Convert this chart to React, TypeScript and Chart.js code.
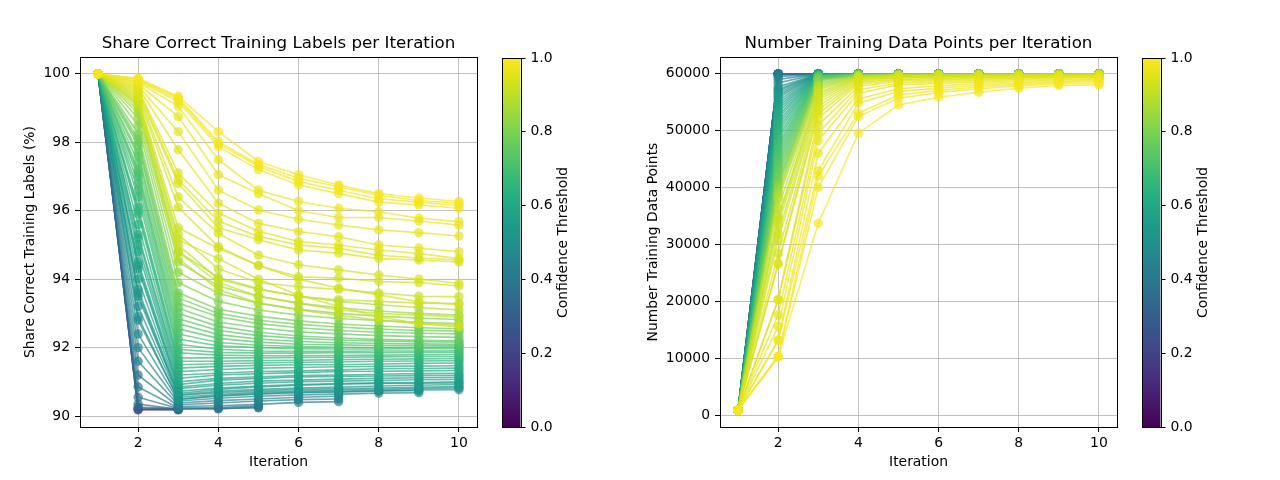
import React, { useEffect, useRef } from "react";
import { Chart, registerables } from "chart.js";

Chart.register(...registerables);

// ---------------- data ----------------
const iterations = [1, 2, 3, 4, 5, 6, 7, 8, 9, 10];

const thresholds = [
  0.2, 0.24, 0.28, 0.32, 0.35, 0.37, 0.39, 0.41, 0.43, 0.45, 0.47, 0.49,
  0.5, 0.51, 0.52, 0.53, 0.54, 0.55, 0.56, 0.57, 0.58, 0.59, 0.6, 0.61,
  0.62, 0.63, 0.64, 0.65, 0.66, 0.67, 0.68, 0.69, 0.7, 0.71, 0.72, 0.73,
  0.74, 0.75, 0.76, 0.77, 0.78, 0.79, 0.81, 0.83, 0.85, 0.87, 0.89, 0.9,
  0.91, 0.915, 0.92, 0.925, 0.93, 0.935, 0.94, 0.945, 0.95, 0.955, 0.96,
  0.965, 0.97, 0.975, 0.98, 0.985, 0.99,
];

// Share of correct training labels (%) per iteration, one row per threshold
const shareCorrect: number[][] = [
  [100, 90.18, 90.19],
  [100, 90.2, 90.18],
  [100, 90.22, 90.2],
  [100, 90.26, 90.21],
  [100, 90.35, 90.2, 90.22, 90.24],
  [100, 90.55, 90.22, 90.21, 90.27],
  [100, 90.85, 90.24, 90.25, 90.3],
  [100, 91.2, 90.28, 90.3, 90.34, 90.4, 90.42],
  [100, 91.6, 90.33, 90.38, 90.44, 90.48, 90.5],
  [100, 92.0, 90.38, 90.45, 90.5, 90.55, 90.58],
  [100, 92.4, 90.44, 90.52, 90.58, 90.62, 90.64, 90.67, 90.68],
  [100, 92.8, 90.5, 90.58, 90.64, 90.68, 90.7, 90.73, 90.74],
  [100, 92.9, 90.48, 90.6, 90.66, 90.7, 90.72, 90.74, 90.76, 90.77],
  [100, 93.2, 90.55, 90.63, 90.7, 90.73, 90.76, 90.78, 90.8, 90.82],
  [100, 93.5, 90.6, 90.68, 90.74, 90.78, 90.8, 90.82, 90.84, 90.86],
  [100, 93.6, 90.62, 90.72, 90.78, 90.82, 90.85, 90.88, 90.9, 90.92],
  [100, 93.7, 90.66, 90.78, 90.85, 90.9, 90.93, 90.95, 90.96, 90.97],
  [100, 94.0, 90.72, 90.82, 90.88, 90.92, 90.95, 90.97, 90.98, 91.0],
  [100, 94.3, 90.8, 90.9, 90.96, 91.0, 91.02, 91.04, 91.06, 91.07],
  [100, 94.4, 90.85, 90.95, 91.02, 91.05, 91.08, 91.1, 91.12, 91.13],
  [100, 94.5, 90.92, 91.05, 91.1, 91.14, 91.16, 91.17, 91.18, 91.19],
  [100, 94.8, 91.0, 91.1, 91.15, 91.18, 91.2, 91.22, 91.24, 91.25],
  [100, 95.0, 91.1, 91.2, 91.24, 91.27, 91.3, 91.31, 91.32, 91.33],
  [100, 95.2, 91.2, 91.25, 91.3, 91.32, 91.35, 91.38, 91.39, 91.4],
  [100, 95.3, 91.3, 91.36, 91.4, 91.42, 91.44, 91.45, 91.46, 91.47],
  [100, 95.6, 91.4, 91.45, 91.48, 91.5, 91.5, 91.52, 91.54, 91.55],
  [100, 95.9, 91.5, 91.53, 91.55, 91.57, 91.58, 91.6, 91.61, 91.62],
  [100, 96.0, 91.6, 91.6, 91.62, 91.63, 91.65, 91.66, 91.67, 91.68],
  [100, 96.1, 91.7, 91.7, 91.7, 91.71, 91.72, 91.73, 91.74, 91.74],
  [100, 96.4, 91.85, 91.78, 91.76, 91.76, 91.77, 91.78, 91.79, 91.8],
  [100, 96.6, 91.95, 91.86, 91.84, 91.84, 91.85, 91.85, 91.86, 91.86],
  [100, 96.8, 92.1, 91.95, 91.9, 91.89, 91.89, 91.9, 91.9, 91.91],
  [100, 97.0, 92.25, 92.05, 92.0, 91.97, 91.96, 91.96, 91.97, 91.97],
  [100, 97.1, 92.4, 92.15, 92.07, 92.03, 92.01, 92.0, 92.01, 92.02],
  [100, 97.2, 92.55, 92.27, 92.16, 92.1, 92.08, 92.06, 92.06, 92.06],
  [100, 97.4, 92.7, 92.38, 92.25, 92.18, 92.14, 92.12, 92.11, 92.1],
  [100, 97.6, 92.85, 92.5, 92.35, 92.27, 92.22, 92.19, 92.17, 92.16],
  [100, 97.7, 93.0, 92.62, 92.45, 92.34, 92.28, 92.24, 92.21, 92.2],
  [100, 97.9, 93.15, 92.75, 92.58, 92.46, 92.4, 92.35, 92.32, 92.3],
  [100, 98.0, 93.3, 92.9, 92.7, 92.58, 92.5, 92.45, 92.42, 92.4],
  [100, 98.1, 93.45, 93.0, 92.8, 92.68, 92.6, 92.54, 92.5, 92.48],
  [100, 98.25, 93.6, 93.12, 92.92, 92.78, 92.69, 92.63, 92.58, 92.55],
  [100, 98.5, 93.9, 93.35, 93.1, 92.95, 92.85, 92.79, 92.74, 92.7],
  [100, 98.7, 94.2, 93.58, 93.3, 93.12, 93.0, 92.92, 92.86, 92.82],
  [100, 98.85, 94.5, 93.8, 93.5, 93.3, 93.16, 93.07, 93.0, 92.95],
  [100, 98.95, 94.8, 94.05, 93.72, 93.5, 93.35, 93.25, 93.17, 93.1],
  [100, 99.05, 94.6, 93.7, 93.3, 93.1, 92.95, 92.8, 92.7, 92.65],
  [100, 99.1, 94.8, 93.9, 93.5, 93.3, 93.1, 93.0, 92.95, 92.9],
  [100, 99.15, 95.0, 94.0, 93.7, 93.5, 93.4, 93.35, 93.3, 93.29],
  [100, 99.2, 95.3, 94.3, 93.9, 93.78, 93.7, 93.6, 93.5, 93.49],
  [100, 99.25, 95.15, 94.6, 94.0, 93.54, 93.2, 92.9, 92.7, 92.6],
  [100, 99.3, 95.5, 94.9, 94.4, 94.0, 93.74, 93.54, 93.34, 93.25],
  [100, 99.35, 96.1, 94.95, 94.4, 94.07, 94.03, 93.93, 93.9, 93.8],
  [100, 99.4, 96.4, 95.34, 94.7, 94.42, 94.27, 94.12, 94.0, 93.88],
  [100, 99.45, 96.8, 95.5, 95.15, 94.85, 94.76, 94.6, 94.56, 94.5],
  [100, 99.5, 96.9, 95.7, 95.25, 95.0, 94.9, 94.7, 94.62, 94.56],
  [100, 99.55, 97.1, 95.93, 95.4, 95.1, 95.0, 94.85, 94.75, 94.6],
  [100, 99.6, 97.78, 96.22, 95.63, 95.39, 95.24, 95.0, 94.91, 94.8],
  [100, 99.65, 98.31, 96.6, 96.02, 95.75, 95.58, 95.44, 95.36, 95.26],
  [100, 99.7, 98.75, 97.05, 96.5, 96.0, 95.8, 95.8, 95.7, 95.58],
  [100, 99.75, 99.05, 97.49, 96.6, 96.27, 96.07, 95.97, 95.78, 95.68],
  [100, 99.78, 99.19, 97.87, 97.2, 96.75, 96.5, 96.25, 96.17, 96.07],
  [100, 99.82, 99.25, 97.95, 97.3, 96.85, 96.6, 96.35, 96.25, 96.15],
  [100, 99.85, 99.3, 98.02, 97.35, 96.95, 96.7, 96.45, 96.3, 96.22],
  [100, 99.87, 99.34, 98.31, 97.44, 97.05, 96.75, 96.5, 96.37, 96.27],
];

// Number of training data points per iteration, one row per threshold
const trainingPoints: number[][] = [
  [1000, 60000, 60000],
  [1000, 60000, 60000],
  [1000, 60000, 60000],
  [1000, 60000, 60000],
  [1000, 60000, 60000, 60000, 60000],
  [1000, 60000, 60000, 60000, 60000],
  [1000, 60000, 60000, 60000, 60000],
  [1000, 59800, 60000, 60000, 60000, 60000, 60000],
  [1000, 59500, 59990, 60000, 60000, 60000, 60000],
  [1000, 59000, 59990, 60000, 60000, 60000, 60000],
  [1000, 58400, 59990, 60000, 60000, 60000, 60000, 60000, 60000],
  [1000, 57700, 59985, 59995, 60000, 60000, 60000, 60000, 60000],
  [1000, 57300, 59982, 59992, 60000, 60000, 60000, 60000, 60000, 60000],
  [1000, 57000, 59980, 59990, 60000, 60000, 60000, 60000, 60000, 60000],
  [1000, 56600, 59975, 59988, 59998, 60000, 60000, 60000, 60000, 60000],
  [1000, 56200, 59970, 59985, 59995, 60000, 60000, 60000, 60000, 60000],
  [1000, 55800, 59960, 59982, 59992, 59998, 59998, 60000, 60000, 60000],
  [1000, 55300, 59950, 59980, 59990, 59995, 59995, 60000, 60000, 60000],
  [1000, 54800, 59940, 59978, 59988, 59992, 59995, 59998, 60000, 60000],
  [1000, 54300, 59930, 59975, 59985, 59990, 59995, 59995, 60000, 60000],
  [1000, 53800, 59915, 59972, 59982, 59990, 59992, 59995, 59998, 59998],
  [1000, 53300, 59900, 59970, 59980, 59990, 59990, 59995, 59995, 59995],
  [1000, 52700, 59885, 59965, 59978, 59988, 59990, 59992, 59995, 59995],
  [1000, 52200, 59870, 59960, 59975, 59985, 59990, 59990, 59995, 59995],
  [1000, 51600, 59850, 59955, 59972, 59982, 59988, 59990, 59992, 59992],
  [1000, 51000, 59830, 59950, 59970, 59980, 59985, 59990, 59990, 59990],
  [1000, 50400, 59800, 59945, 59968, 59978, 59982, 59988, 59990, 59990],
  [1000, 49800, 59780, 59940, 59965, 59975, 59980, 59985, 59990, 59990],
  [1000, 49100, 59750, 59935, 59962, 59972, 59978, 59982, 59988, 59988],
  [1000, 48500, 59720, 59930, 59960, 59970, 59975, 59980, 59985, 59985],
  [1000, 47800, 59690, 59925, 59955, 59965, 59972, 59978, 59982, 59985],
  [1000, 47200, 59650, 59920, 59950, 59960, 59970, 59975, 59980, 59985],
  [1000, 46600, 59600, 59910, 59945, 59958, 59968, 59972, 59978, 59982],
  [1000, 46000, 59550, 59900, 59940, 59955, 59965, 59970, 59975, 59980],
  [1000, 45400, 59500, 59890, 59935, 59952, 59962, 59968, 59972, 59978],
  [1000, 44800, 59450, 59880, 59930, 59950, 59960, 59965, 59970, 59975],
  [1000, 44200, 59380, 59870, 59925, 59945, 59955, 59962, 59968, 59972],
  [1000, 43600, 59300, 59860, 59920, 59940, 59950, 59960, 59965, 59970],
  [1000, 42900, 59230, 59845, 59915, 59935, 59945, 59955, 59962, 59968],
  [1000, 42300, 59150, 59830, 59910, 59930, 59940, 59950, 59960, 59965],
  [1000, 41600, 59050, 59815, 59905, 59925, 59935, 59945, 59955, 59962],
  [1000, 41000, 58950, 59800, 59900, 59920, 59930, 59940, 59950, 59960],
  [1000, 40500, 58700, 59760, 59880, 59910, 59920, 59930, 59940, 59950],
  [1000, 40000, 58400, 59720, 59860, 59890, 59910, 59920, 59930, 59940],
  [1000, 39300, 58100, 59680, 59840, 59870, 59890, 59910, 59920, 59930],
  [1000, 38700, 57800, 59620, 59810, 59850, 59870, 59890, 59910, 59920],
  [1000, 38000, 57500, 59560, 59780, 59820, 59850, 59880, 59900, 59910],
  [1000, 36500, 57190, 59500, 59740, 59790, 59830, 59860, 59890, 59900],
  [1000, 35000, 56700, 59420, 59700, 59750, 59800, 59840, 59870, 59890],
  [1000, 34500, 56300, 59350, 59640, 59700, 59760, 59810, 59850, 59870],
  [1000, 33500, 55900, 59250, 59580, 59660, 59720, 59780, 59830, 59850],
  [1000, 32000, 55430, 59150, 59520, 59600, 59680, 59740, 59800, 59820],
  [1000, 30870, 54900, 59000, 59450, 59550, 59620, 59700, 59760, 59790],
  [1000, 28500, 54300, 58850, 59350, 59450, 59550, 59640, 59710, 59750],
  [1000, 26780, 53680, 58650, 59240, 59350, 59450, 59560, 59650, 59700],
  [1000, 26600, 53000, 58500, 59050, 59200, 59350, 59480, 59580, 59630],
  [1000, 20470, 52220, 58200, 58900, 59050, 59200, 59380, 59500, 59560],
  [1000, 20300, 51000, 57770, 58700, 58850, 59050, 59250, 59400, 59480],
  [1000, 17720, 49590, 57200, 58400, 58600, 58850, 59100, 59280, 59380],
  [1000, 15670, 48300, 56600, 58060, 58300, 58600, 58900, 59100, 59230],
  [1000, 13330, 46080, 55600, 57400, 57900, 58300, 58650, 58900, 59050],
  [1000, 13200, 43030, 54850, 56890, 57500, 58000, 58400, 58700, 58850],
  [1000, 10500, 42100, 53100, 56300, 57100, 57700, 58150, 58500, 58650],
  [1000, 10400, 40100, 52510, 55720, 56700, 57400, 57900, 58250, 58400],
  [1000, 10290, 33800, 49590, 54550, 55900, 56780, 57480, 57950, 58060],
];

const xTicks = [2, 4, 6, 8, 10];
const shareTicks = [90, 92, 94, 96, 98, 100];
const pointsTicks = [0, 10000, 20000, 30000, 40000, 50000, 60000];
const cbarTicks = [0, 0.2, 0.4, 0.6, 0.8, 1.0];

// ---------------- styling helpers ----------------
const FONT = "'DejaVu Sans', 'Liberation Sans', sans-serif";
const VIRIDIS = [
  "#440154", "#471365", "#482475", "#463480", "#414487", "#3b528b", "#355f8d",
  "#2f6c8e", "#2a788e", "#25848e", "#21918c", "#1e9c89", "#22a884", "#2fb47c",
  "#44bf70", "#5ec962", "#7ad151", "#9bd93c", "#bddf26", "#dfe318", "#fde725",
];
function hexRgb(h: string) {
  return [parseInt(h.slice(1, 3), 16), parseInt(h.slice(3, 5), 16), parseInt(h.slice(5, 7), 16)];
}
function viridis(t: number, a = 1) {
  const p = Math.max(0, Math.min(1, t)) * (VIRIDIS.length - 1);
  const i = Math.min(VIRIDIS.length - 2, Math.floor(p));
  const f = p - i;
  const c0 = hexRgb(VIRIDIS[i]);
  const c1 = hexRgb(VIRIDIS[i + 1]);
  const c = c0.map((v, k) => Math.round(v + (c1[k] - v) * f));
  return `rgba(${c[0]},${c[1]},${c[2]},${a})`;
}

const framePlugin = {
  id: "frame",
  afterDraw(chart: any) {
    const { ctx, chartArea: a } = chart;
    ctx.save();
    ctx.strokeStyle = "#000";
    ctx.lineWidth = 1;
    ctx.strokeRect(Math.round(a.left) + 0.5, Math.round(a.top) + 0.5, Math.round(a.right - a.left), Math.round(a.bottom - a.top));
    ctx.restore();
  },
};

const cbarPlugin = {
  id: "cbar",
  beforeDatasetsDraw(chart: any) {
    const { ctx, chartArea: a } = chart;
    const g = ctx.createLinearGradient(0, a.bottom, 0, a.top);
    VIRIDIS.forEach((c, i) => g.addColorStop(i / (VIRIDIS.length - 1), c));
    ctx.save();
    ctx.fillStyle = g;
    ctx.fillRect(a.left, a.top, a.right - a.left, a.bottom - a.top);
    ctx.restore();
  },
  afterDraw(chart: any) {
    const { ctx, chartArea: a } = chart;
    ctx.save();
    ctx.strokeStyle = "#000";
    ctx.lineWidth = 1;
    ctx.strokeRect(Math.round(a.left) + 0.5, Math.round(a.top) + 0.5, Math.round(a.right - a.left), Math.round(a.bottom - a.top));
    ctx.translate(73, (a.top + a.bottom) / 2);
    ctx.rotate(-Math.PI / 2);
    ctx.fillStyle = "#000";
    ctx.font = `13.9px ${FONT}`;
    ctx.textAlign = "center";
    ctx.textBaseline = "middle";
    ctx.fillText("Confidence Threshold", 0, 0);
    ctx.restore();
  },
};

const tickFont = { family: FONT, size: 13.9 };

function mainConfig(
  title: string,
  yTitle: string,
  rows: number[][],
  yMin: number,
  yMax: number,
  yTicks: number[],
  yTitlePad: number
): any {
  const datasets = thresholds
    .map((t, i) => ({
      data: rows[i].map((v, j) => ({ x: iterations[j], y: v })),
      borderColor: viridis(t, 0.7),
      backgroundColor: viridis(t, 0.7),
      pointBackgroundColor: viridis(t, 0.7),
      pointBorderWidth: 0,
      pointRadius: 4.7,
      borderWidth: 1.6,
      tension: 0,
    }))
    .reverse();
  return {
    type: "line",
    data: { datasets },
    options: {
      animation: false,
      responsive: false,
      events: [],
      layout: { padding: { top: 33.5, left: 0, right: 163, bottom: 0 } },
      plugins: {
        legend: { display: false },
        tooltip: { enabled: false },
        title: {
          display: true,
          fullSize: false,
          text: title,
          color: "#000",
          font: { family: FONT, size: 16.7, weight: "normal" },
          padding: { top: 0, bottom: 3.5 },
        },
      },
      scales: {
        x: {
          type: "linear",
          min: 0.55,
          max: 10.45,
          afterBuildTicks: (s: any) => {
            s.ticks = xTicks.map((v) => ({ value: v }));
          },
          afterFit: (s: any) => {
            s.height = 53;
          },
          grid: { color: "#b0b0b0", lineWidth: 0.8, tickColor: "#000", tickLength: 5, drawTicks: true, tickWidth: 1 },
          border: { display: false },
          ticks: { color: "#000", font: tickFont, padding: 3, maxRotation: 0, callback: (v: any) => String(v) },
          title: { display: true, text: "Iteration", color: "#000", font: tickFont, padding: { top: 0, bottom: 9.2 } },
        },
        y: {
          type: "linear",
          min: yMin,
          max: yMax,
          afterBuildTicks: (s: any) => {
            s.ticks = yTicks.map((v) => ({ value: v }));
          },
          afterFit: (s: any) => {
            s.width = 80;
          },
          grid: { color: "#b0b0b0", lineWidth: 0.8, tickColor: "#000", tickLength: 5, drawTicks: true, tickWidth: 1 },
          border: { display: false },
          ticks: { color: "#000", font: tickFont, padding: 5, callback: (v: any) => String(v) },
          title: { display: true, text: yTitle, color: "#000", font: tickFont, padding: { top: yTitlePad, bottom: 0 } },
        },
      },
    },
    plugins: [framePlugin],
  };
}

function cbarConfig(): any {
  return {
    type: "scatter",
    data: { datasets: [] },
    options: {
      animation: false,
      responsive: false,
      events: [],
      layout: { padding: { left: 12, top: 58, bottom: 53, right: 0 } },
      plugins: { legend: { display: false }, tooltip: { enabled: false }, title: { display: false } },
      scales: {
        x: { display: false, min: 0, max: 1 },
        y: {
          position: "right",
          min: 0,
          max: 1,
          afterBuildTicks: (s: any) => {
            s.ticks = cbarTicks.map((v) => ({ value: v }));
          },
          afterFit: (s: any) => {
            s.width = 119.5;
          },
          grid: { drawOnChartArea: false, drawTicks: true, tickLength: 5, tickColor: "#000", tickWidth: 1 },
          border: { display: false },
          ticks: { color: "#000", font: tickFont, padding: 5, callback: (v: any) => Number(v).toFixed(1) },
        },
      },
    },
    plugins: [cbarPlugin],
  };
}

export default function App() {
  const leftRef = useRef<HTMLCanvasElement>(null);
  const rightRef = useRef<HTMLCanvasElement>(null);
  const cbLRef = useRef<HTMLCanvasElement>(null);
  const cbRRef = useRef<HTMLCanvasElement>(null);

  useEffect(() => {
    const charts = [
      new Chart(
        leftRef.current!,
        mainConfig("Share Correct Training Labels per Iteration", "Share Correct Training Labels (%)", shareCorrect, 89.68, 100.49, shareTicks, 21.6)
      ),
      new Chart(
        rightRef.current!,
        mainConfig("Number Training Data Points per Iteration", "Number Training Data Points", trainingPoints, -1950, 62950, pointsTicks, 4.6)
      ),
      new Chart(cbLRef.current!, cbarConfig()),
      new Chart(cbRRef.current!, cbarConfig()),
    ];
    return () => charts.forEach((c) => c.destroy());
  }, []);

  return (
    <div style={{ position: "fixed", left: 0, top: 0, width: 1280, height: 480, background: "#fff" }}>
      <canvas ref={leftRef} width={640} height={480} style={{ position: "absolute", left: 0, top: 0 }} />
      <canvas ref={rightRef} width={640} height={480} style={{ position: "absolute", left: 640, top: 0 }} />
      <canvas ref={cbLRef} width={150} height={480} style={{ position: "absolute", left: 490, top: 0 }} />
      <canvas ref={cbRRef} width={150} height={480} style={{ position: "absolute", left: 1130, top: 0 }} />
    </div>
  );
}
